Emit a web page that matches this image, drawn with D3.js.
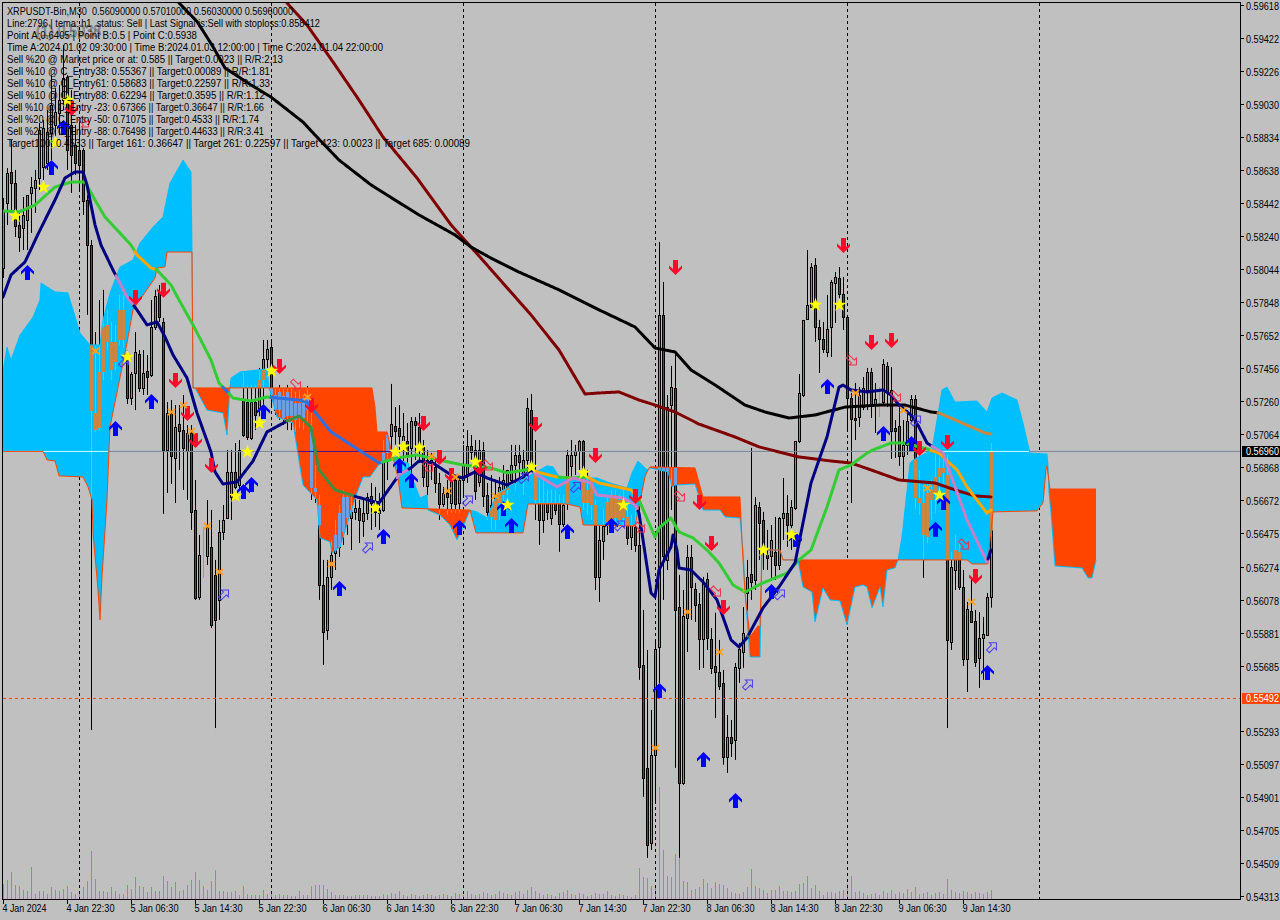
<!DOCTYPE html>
<html><head><meta charset="utf-8">
<script src="https://cdn.jsdelivr.net/npm/d3@7"></script>
<style>html,body{margin:0;padding:0;background:#C0C0C0}svg{display:block}text{font-family:"Liberation Sans",Arial,sans-serif}</style>
</head><body><svg id="c" width="1280" height="920"></svg>
<script>
// prices below are in units of 0.00001
const opens=[58052,58439,58624,58558,58308,58291,58338,58499,58528,58588,
58653,58677,58856,58903,58975,59052,59189,58903,58784,58754,
58754,58457,58189,57189,57099,57433,57612,57612,57492,57624,
57803,57534,57278,57427,57540,57338,57439,57415,57701,57910,
57731,56969,57189,56921,57123,57087,56963,57070,56612,56094,
56338,56338,56391,56225,56076,56481,56564,56689,56838,56760,
57266,57254,57040,57254,57218,57385,57510,57582,57206,57314,
57159,57314,57171,57248,57159,57159,57296,57105,56743,56641,
56165,55897,56213,56356,56391,56481,56564,56564,56600,56623,
56546,56594,56695,56659,56594,56612,56951,57052,57111,57099,
57028,57022,56981,57141,57105,56987,56755,56891,56868,56772,
56647,56713,56653,56790,56653,56790,56820,56993,56969,56778,
56969,56701,56570,56552,56653,56701,56731,56790,56879,56939,
56790,56909,57206,56850,56653,56552,56653,56564,56653,56653,
56528,56653,56874,56939,56963,57022,56653,56790,56641,56213,
56427,56540,56552,56701,56552,56683,56570,56451,56510,56403,
55689,55076,54629,55153,55796,57773,56314,57236,57338,56034,
54986,55969,56332,56141,56052,55843,56201,55843,55683,55647,
55582,55141,55260,55242,55671,55766,56117,56231,56195,56629,
56552,56344,56338,56362,56284,56564,56594,56522,56623,57022,
57296,57749,57820,58070,57701,57630,57552,57701,57963,57993,
57898,57761,57278,57159,57165,57224,57326,57433,57236,57254,
57254,57469,57326,57099,57111,56933,56999,57147,57272,56683,
56463,56451,56731,56713,56808,56832,56820,55826,56254,56362,
56153,55725,56010,55951,55731,55850,55868,56090];
const highs=[58469,58647,58814,58636,58380,58475,58487,58594,58636,58915,
58933,58992,59200,59123,59141,59379,59200,59112,58903,58933,
58766,58487,58219,57671,57862,57922,57803,57731,57713,57892,
57892,57564,57433,57671,57564,57564,57534,57862,57922,57951,
57755,57254,57266,57236,57236,57296,57117,57117,56790,56463,
56510,56671,56612,56314,56552,56641,56969,56969,57010,57028,
57439,57356,57356,57356,57457,57624,57624,57624,57338,57356,
57332,57356,57338,57314,57326,57296,57350,57254,56879,56701,
56314,56314,56433,56552,56641,56731,56701,56701,56701,56671,
56671,56713,56772,56749,56713,57028,57076,57362,57224,57236,
57189,57129,57165,57165,57189,57028,56969,56951,56909,56832,
56749,56790,56832,56808,56802,56999,57087,57058,57028,57028,
57016,56772,56820,56790,56808,56879,56850,56999,56999,56999,
56969,57278,57302,57028,56790,56790,56731,56731,56731,56701,
56701,56969,57028,56999,57028,57028,56850,56802,56671,56522,
56612,56701,56731,56731,56701,56731,56641,56582,56701,56671,
56016,55778,55421,55838,58207,57969,57296,57469,57552,56225,
56135,56403,56403,56177,56117,56213,56237,55909,56000,55838,
55659,55391,55361,55701,55820,56034,56314,56981,56689,56659,
56600,56493,56522,56570,56570,56802,56701,56671,57022,57421,
57743,58159,58082,58111,57743,57731,57892,57981,58028,58058,
57999,57773,57308,57368,57344,57403,57457,57457,57368,57344,
57510,57492,57463,57147,57224,57147,57206,57296,57296,56850,
56760,56772,56790,56939,56927,56921,56939,56362,56463,56433,
56254,56064,56207,56016,56004,55975,56117,57010];
const lows=[57993,58308,58380,58237,58147,58159,58159,58261,58380,58517,
58576,58636,58695,58814,58844,58992,58636,58499,58606,58505,
58368,57773,55301,57076,57087,57385,57564,57385,57445,57594,
57576,57242,57236,57206,57314,57296,57296,57403,57683,57731,
56588,56713,56766,56653,56850,56731,56671,56493,56076,56076,
56207,56284,55909,55313,55957,56433,56558,56552,56701,56731,
57046,57028,57028,57087,57147,57206,57457,57236,57177,57147,
57117,57087,57087,57076,57099,57087,57117,56671,56653,56076,
55689,55838,56135,56254,56332,56403,56463,56373,56552,56415,
56451,56552,56493,56510,56493,56600,56790,56957,56999,56951,
56850,56868,56820,56909,56891,56749,56689,56790,56713,56552,
56629,56582,56594,56594,56594,56701,56772,56909,56671,56749,
56629,56552,56493,56493,56552,56612,56701,56772,56731,56790,
56701,56790,56838,56552,56403,56475,56552,56522,56582,56362,
56510,56612,56790,56820,56850,56612,56582,56552,56135,56064,
56314,56463,56493,56522,56522,56510,56403,56373,56362,55600,
54903,54540,54587,54867,55582,56076,56254,56612,55076,54540,
54974,55766,55957,55945,55659,55671,55778,55635,55373,55540,
55094,55046,55141,55123,55582,55671,55975,56076,56135,56314,
56254,56254,56195,56195,56254,56433,56391,56373,56612,57010,
57284,57743,57814,57612,57427,57546,57522,57522,57725,57820,
57683,57087,56653,57028,57105,57206,57206,57159,57070,57165,
57242,57224,56915,56921,56874,56796,56939,57135,56612,56582,
56207,56415,56552,56594,56731,56760,55313,55778,56135,56135,
55683,55528,55939,55677,55552,55600,55868,56030];
const closes=[58398,58618,58558,58302,58237,58368,58487,58534,58576,58873,
58885,58861,59022,58980,59052,59183,58754,58725,58677,58665,
58451,58189,57201,57087,57433,57701,57713,57445,57612,57803,
57624,57278,57421,57552,57338,57427,57403,57701,57886,57761,
56969,57189,56933,57105,57081,56981,57070,56600,56088,56344,
56350,56510,55927,55957,56481,56552,56838,56838,56749,56969,
57058,57046,57254,57177,57385,57510,57570,57278,57296,57206,
57290,57171,57278,57147,57248,57278,57206,56743,56719,56165,
55886,56213,56344,56463,56594,56689,56689,56612,56623,56552,
56594,56689,56653,56600,56612,56951,57058,57123,57081,57052,
57052,56939,57141,57117,56987,56808,56909,56909,56772,56647,
56713,56689,56790,56647,56790,56879,56993,56957,56725,56969,
56695,56600,56641,56701,56749,56790,56850,56879,56939,56897,
56909,57218,56879,56671,56552,56653,56600,56653,56612,56528,
56641,56939,56939,56963,57022,56653,56731,56641,56213,56433,
56516,56659,56701,56564,56671,56564,56445,56522,56403,55677,
55016,54617,55153,55784,57773,56338,57224,57344,56016,54986,
55981,56332,56153,56046,55843,56183,55850,55671,55647,55564,
55141,55260,55224,55677,55784,55880,56213,56183,56641,56534,
56373,56326,56433,56284,56564,56594,56522,56629,57022,57308,
57743,57832,58058,57701,57630,57570,57689,57969,57999,57898,
57761,57278,57153,57147,57296,57338,57433,57236,57272,57266,
57480,57314,57081,57081,56933,56999,57141,57272,56683,56653,
56653,56713,56671,56808,56862,56862,55838,56272,56373,56153,
55725,56022,55945,55707,55850,55874,56094,56960];
const volumes=[15,19,27,14,13,9,8,32,5,8,8,5,12,9,8,10,13,7,5,8,
12,18,48,20,8,8,7,12,8,5,5,14,10,22,13,12,7,12,8,8,
23,18,12,17,8,9,14,19,27,19,13,9,18,29,8,8,7,7,8,4,
13,5,4,4,4,9,5,7,4,5,4,4,3,3,8,4,4,13,14,14,
14,10,7,4,4,4,3,3,4,4,4,4,3,3,3,5,4,6,5,8,
4,3,5,4,3,4,5,4,3,4,5,4,3,6,5,4,8,5,4,5,
7,6,4,5,8,6,5,4,7,8,5,9,12,8,6,4,5,4,3,6,
7,9,5,4,6,5,3,4,6,5,5,8,4,3,5,4,3,2,4,31,
22,21,13,14,112,49,23,22,45,41,18,17,9,10,12,20,16,11,17,15,
14,11,7,6,5,7,12,30,13,11,9,6,9,9,13,8,8,7,8,15,
16,23,11,14,8,4,7,7,6,8,9,15,23,7,8,6,4,5,6,4,
8,6,9,5,7,6,10,7,12,5,6,7,4,6,7,5,20,9,7,6,
8,7,5,7,6,5,7,9];
const limeWickBars=[50,219];

const emaGreenBars=[0,4,8,13,17,20.5,23,25.5,32,33.5,37,38.5,42,44,47.5,52,54,57.5,62,66,74,76,82,87,94,98.5,103.5,109,115,122,126,132,133.5,138.5,142,146,149,157,159,163,164,167,169,172.5,176,179,182.5,185.5,190,196,199,202,206,209,212,216,217.5,222,225.5,231,234,238.5,241,245,246,247];
const emaGreen=[58392,58386,58427,58534,58564,58564,58457,58356,58189,58130,58052,58040,57951,57862,57713,57505,57368,57278,57260,57284,57266,57254,57076,56999,56891,56921,56939,56909,56879,56862,56832,56856,56838,56808,56802,56808,56772,56731,56671,56451,56504,56564,56481,56445,56373,56296,56165,56123,56177,56236,56314,56373,56629,56850,56879,56950,56969,57010,57010,56975,56950,56850,56749,56623,56593,56611];
const temaNavyBars=[0,2,5.5,9,13,15.5,18,20,21,23,24.5,27.5,31,33.5,36,38.5,40.5,42.5,46,48.5,52,53,55,58.5,62.5,66,71,74,77,79,83,88.5,94,99,102,104,107.5,112,115,118,121,126,130,132,133.5,138.5,142.5,147,148.5,155,158,159,162,163,164,167,167.5,168.5,169,172,175,178.5,182,184,186,190,194,198,202,206,209,210,212,216,220,222,224,227.5,229,231,235,241,246,247];
const temaNavy=[57880,58011,58088,58266,58457,58588,58624,58624,58547,58309,58189,58040,57880,57803,57713,57731,57642,57535,57397,57189,56957,56838,56766,56778,56903,57076,57141,57171,57105,56850,56731,56689,56653,56820,56862,56903,56891,56820,56802,56838,56802,56760,56808,56850,56820,56749,56802,56772,56701,56683,56641,56593,56117,56094,56254,56391,56463,56373,56266,56254,56183,56076,55838,55796,55850,56028,56153,56296,56772,57046,57343,57355,57326,57314,57326,57296,57236,57165,57105,57010,56950,56552,56302,56373];
const maBlackBars=[44,48.5,52.5,55.5,62,67,75,78,84,92,98,104,113,117,122,129,139,149,158,163,168,172,178,185.5,190.5,196.5,203,210.5,219,225.5,232,234,245.5,247];
const maBlack=[59630,59520,59370,59243,59142,59070,58921,58844,58695,58547,58457,58368,58249,58177,58111,58028,57922,57803,57701,57576,57552,57445,57356,57236,57195,57159,57177,57224,57236,57236,57195,57189,57070,57064];
const maMaroonBars=[71,76,82.5,89,95,103.5,112,119,132,139,145.5,149,154,159,163,168,174,183,189,194,199,207,212,217,224,233,238,243,247];
const maMaroon=[59630,59499,59279,59052,58832,58588,58309,58124,57773,57564,57302,57308,57314,57266,57236,57195,57123,57046,56987,56957,56927,56903,56891,56850,56790,56772,56731,56695,56689];

const spanABars=[0,10,11,13,14,20,21.25,22.25,22.5,23.75,24.25,24.75,26,26.5,26.75,31,32.5,38,38.5,40.5,41,47.25,47.5,92.25,93,93.5,96,97.5,98.75,99.75,116.75,118.25,130,131.25,141,144.25,145,158,160.5,161.25,161.75,173,175,184.25,184.75,185.5,186.75,188.75,189.25,189.75,194.25,195,223.75,241,242.25,246.25,246.75,247.5,258.5,260,260.75,261,261.75,273.25];
const spanA=[56960,56960,56909,56903,56814,56808,56749,56671,56475,56135,55957,56213,56671,56969,57105,57605,57803,57993,58052,58058,58147,58147,57338,57338,57224,57076,57076,56921,56802,56623,56611,56475,56475,56647,56647,56629,56522,56516,56808,56850,56868,56862,56689,56689,56421,56117,55856,55921,55915,56373,56373,56314,56314,56314,56290,56290,56433,56600,56606,56653,56850,56874,56736,56736];
const spanBBars=[0,1,2,4.25,7.5,9.25,9.5,13,16.25,16.75,19.25,21.75,24.25,25,26.75,29.25,32.5,34.25,37.5,40,41.75,45,47,47.25,47.5,48,51,55,56,56.75,57,59.25,66,66.5,68.5,72.5,74.25,75,78.5,79.25,81.75,82.25,84.25,88.5,90,91.75,94.25,97.5,101.25,102.5,104.25,106,106.25,109.25,111.75,113.5,115,116.75,118.5,121,122.5,123.75,136,137.5,139.25,148.5,151.75,156,157.25,158.75,161,161.75,166.25,167.25,168,173,175,179.25,180.5,184.25,185,185.75,186.75,189.25,189.75,194.25,195,198.75,200,202.25,203,205,206.75,209.25,211,213,215,216,217.25,219.25,220,221,223,223.75,224.75,226.75,227.5,232.25,234.75,236,238,243.5,246,247.25,249.75,253.5,255,256.75,261,261.25,261.5,262,263,269.75,271.25,272.25,273.25];
const spanB=[57433,57581,57504,57653,57760,57862,57963,57910,57904,57862,57665,57594,57594,57743,57904,58058,58100,58201,58296,58356,58558,58695,58624,58147,57338,57338,57206,57189,57058,57338,57397,57433,57451,57338,57165,57129,56868,56760,56671,56445,56421,56356,56391,56713,56808,56808,56891,56921,56891,56790,56683,56701,56611,56581,56522,56433,56510,56611,56600,56564,56653,56713,56874,56868,56802,56802,56772,56743,56832,56903,56850,56862,56838,56749,56760,56766,56611,56611,56570,56564,56373,56046,55736,55736,56373,56373,56314,56314,56153,56123,55945,56147,56076,56070,55927,56153,56165,56153,56028,56153,56034,56254,56266,56314,56451,56891,56909,56969,57326,57343,57254,57260,57195,57278,57308,57266,57129,56950,56945,56874,56713,56594,56278,56266,56207,56207,56314];

const upBars=[6,12,15,28,37,60,62,65,84,95,99,102,114,125,127,141,152,164,175,183,192,198,206,220,227,233,235,246];
const upPrices=[58023,58647,58885,57093,57254,56719,56760,57195,56141,56451,56873,56784,56504,56617,56516,56480,56516,55534,55123,54879,56123,56433,57343,57064,57004,56493,56653,55641];
const downBars=[17,33,40,43,46,48,52,69,77,105,109,112,119,133,148,158,168,210,174,177,180,217,222,229,236,243];
const downPrices=[59004,57880,57922,57385,57189,57028,56879,57468,57236,57129,56927,56820,56867,57123,56939,56695,58058,58189,56659,56415,56034,57612,57624,56980,57016,56219];
const hollowUpBars=[30,55,91,116,130,143,154,186,194,228,247];
const hollowUpPrices=[57492,56106,56385,56665,56798,56745,56516,55569,56106,57141,55791];
const hollowDownBars=[20,73,106,121,159,169,212,178,223,240];
const hollowDownPrices=[58921,57361,56873,56879,56510,56695,57504,56129,57290,56409];
const starBars=[3,10,13,16,31,58,61,64,67,93,98,100,104,118,126,132,145,155,190,197,203,209,234];
const starPrices=[58362,58534,58798,59052,57522,56695,56957,57129,57439,56623,56957,56987,56981,56897,56641,56867,56832,56641,56373,56463,57832,57832,56701];
const crossBars=[23,42,45,47,51,54,76,82,107,111,113,123,163,171,179,213,225,231,242];
const crossPrices=[57558,57195,57236,57081,56516,56243,57284,56290,56933,56725,56808,56695,55195,56005,55766,57308,57206,56742,56064];

const separatorBars=[19,67,115,163,211,259];
const yTickLabels=["0.59618","0.59422","0.59226","0.59030","0.58834","0.58638","0.58442","0.58240","0.58044","0.57848","0.57652","0.57456","0.57260","0.57064","0.56868","0.56672","0.56475","0.56274","0.56078","0.55881","0.55685","0.55293","0.55097","0.54901","0.54705","0.54509","0.54313"];
const xTickLabels=["4 Jan 2024","4 Jan 22:30","5 Jan 06:30","5 Jan 14:30","5 Jan 22:30","6 Jan 06:30","6 Jan 14:30","6 Jan 22:30","7 Jan 06:30","7 Jan 14:30","7 Jan 22:30","8 Jan 06:30","8 Jan 14:30","8 Jan 22:30","9 Jan 06:30","9 Jan 14:30"];
const bidPrice=0.5696, askPrice=0.55492;
const infoLines=["XRPUSDT-Bin,M30  0.56090000 0.57010000 0.56030000 0.56960000",
"Line:2796 | tema: h1  status: Sell | Last Signal is:Sell with stoploss:0.858412",
"Point A:0.6405 | Point B:0.5 | Point C:0.5938",
"Time A:2024.01.02 09:30:00 | Time B:2024.01.03 12:00:00 | Time C:2024.01.04 22:00:00",
"Sell %20 @ Market price or at: 0.585 || Target:0.0023 || R/R:2.13",
"Sell %10 @ C_Entry38: 0.55367 || Target:0.00089 || R/R:1.81",
"Sell %10 @ C_Entry61: 0.58683 || Target:0.22597 || R/R:1.33",
"Sell %10 @ C_Entry88: 0.62294 || Target:0.3595 || R/R:1.12",
"Sell %10 @ C_Entry -23: 0.67366 || Target:0.36647 || R/R:1.66",
"Sell %20 @ C_Entry -50: 0.71075 || Target:0.4533 || R/R:1.74",
"Sell %20 @ C_Entry -88: 0.76498 || Target:0.44633 || R/R:3.41",
"Target100: 0.4533 || Target 161: 0.36647 || Target 261: 0.22597 || Target 423: 0.0023 || Target 685: 0.00089"];
const infoLineWidths=[286,313,190,376,276,263,263,258,257,252,257,463];

const BLUE="#00BFFF", ORANGE="#FF4500", BG="#C0C0C0";
const svg=d3.select("#c");
svg.append("rect").attr("width",1280).attr("height",920).attr("fill",BG);
const x=d3.scaleLinear().domain([0,1]).range([3,7]);
const y=d3.scaleLinear().domain([0.59618,0.54313]).range([5,896]);
const yP=v=>y(v/1e5);
const vol=d3.scaleLinear().domain([0,112]).range([899,787]);
const defs=svg.append("defs");
defs.append("clipPath").attr("id","plot").append("rect").attr("x",3).attr("y",3).attr("width",1237).attr("height",896);
const g=svg.append("g").attr("clip-path","url(#plot)");

// volumes
g.append("g").selectAll("rect").data(volumes).join("rect")
 .attr("x",(d,i)=>x(i)).attr("width",1).attr("y",d=>vol(d)).attr("height",d=>899-vol(d)).attr("fill","#4DBB4D");
// day separators
g.append("g").selectAll("line").data(separatorBars).join("line")
 .attr("x1",d=>x(d)+.5).attr("x2",d=>x(d)+.5).attr("y1",3).attr("y2",899)
 .attr("stroke","#000").attr("stroke-dasharray","3 3");
// candles
const cg=g.append("g");
opens.forEach((o,i)=>{
  const c=closes[i],top=Math.max(o,c),bot=Math.min(o,c),cx=x(i);
  const lime=limeWickBars.includes(i);
  cg.append("rect").attr("x",cx).attr("width",1).attr("y",yP(highs[i])).attr("height",Math.max(1,yP(lows[i])-yP(highs[i]))).attr("fill",lime?"#32E032":"#000");
  if(lime) return;
  const h=Math.max(2,Math.round(yP(bot)-yP(top)));
  cg.append("rect").attr("x",cx-1).attr("width",3).attr("y",Math.round(yP(top))).attr("height",h+1).attr("fill","#000");
  cg.append("rect").attr("x",cx).attr("width",1).attr("y",Math.round(yP(top))+1).attr("height",Math.max(1,h-1)).attr("fill",c>=o?"#3CB878":"#C8143C");
});
// cloud
const fA=d3.scaleLinear().domain(spanABars).range(spanA);
const fB=d3.scaleLinear().domain(spanBBars).range(spanB);
const lastT=d3.max(spanABars);
const samples=d3.range(0,lastT+.001,.25);
const kindAt=t=>fB(t)>fA(t)?"blue":"orange";
const area=d3.area().x(t=>x(t)).y0(t=>yP(fA(t))).y1(t=>yP(fB(t)));
let runs=[],cur=null;
samples.forEach(t=>{const k=kindAt(t);
  if(!cur||cur.k!==k){if(cur)cur.ts.push(t);cur={k,ts:cur?[cur.ts[cur.ts.length-1]]:[]};runs.push(cur);}
  cur.ts.push(t);});
const cloudG=g.append("g");
runs.forEach(r=>cloudG.append("path").attr("d",area(r.ts)).attr("fill",r.k==="blue"?BLUE:ORANGE).attr("shape-rendering","crispEdges"));
// candles seen through the cloud
const ov=g.append("g");
opens.forEach((o,i)=>{
  if(limeWickBars.includes(i))return;
  const a=fA(i),b=fB(i),hi=Math.max(a,b),lo=Math.min(a,b);
  if(hi-lo<1)return;
  const blue=b>a,c=closes[i],top=Math.min(Math.max(o,c),hi),bot=Math.max(Math.min(o,c),lo);
  const wt=Math.min(highs[i],hi),wb=Math.max(lows[i],lo);
  if(wt>wb) ov.append("rect").attr("x",x(i)).attr("width",1).attr("y",yP(wt)).attr("height",yP(wb)-yP(wt)).attr("fill",blue?"#C8A468":"#7FA0D0");
  if(top>bot) ov.append("rect").attr("x",x(i)-1).attr("width",3).attr("y",yP(top)).attr("height",yP(bot)-yP(top)).attr("fill",blue?"#CD853F":"#6F9FE0");
});
// bid / ask lines
function zoneAt(t,p){ if(t>lastT||t<0)return null; const a=fA(t),b=fB(t); if(p<Math.min(a,b)||p>Math.max(a,b))return null; return b>a?"blue":"orange"; }
function drawZoned(parent,ts,fn,base,onBlue,onOrange,w){
  const line=d3.line().x(t=>x(t)).y(t=>yP(fn(t)));
  let rr=[],c=null;
  ts.forEach(t=>{const z=zoneAt(t,fn(t)),col=z==="blue"?onBlue:z==="orange"?onOrange:base;
    if(!c||c.col!==col){const st=c?[c.ts[c.ts.length-1]]:[];c={col,ts:st};rr.push(c);}
    c.ts.push(t);});
  rr.forEach(r=>parent.append("path").attr("d",line(r.ts)).attr("fill","none").attr("stroke",r.col).attr("stroke-width",w).attr("stroke-linejoin","round").attr("stroke-linecap",w>1?"round":"butt"));
}
const lg=g.append("g");
drawZoned(lg,d3.range(-1,310,.25),()=>bidPrice*1e5,"#778899","#C8FFFF","#40108F",1);
const spanLine=(f,col)=>g.append("path").attr("d",d3.line().x(t=>x(t)).y(t=>yP(f(t)))(samples)).attr("fill","none").attr("stroke",col).attr("stroke-width",1);
spanLine(fB,BLUE); spanLine(fA,ORANGE);
g.append("line").attr("x1",3).attr("x2",1240).attr("y1",y(askPrice)+.5).attr("y2",y(askPrice)+.5).attr("stroke",ORANGE).attr("stroke-dasharray","3 3");
// moving averages
const series=[[maMaroonBars,maMaroon,"#800000","#800000","#800000"],[maBlackBars,maBlack,"#000","#CD853F","#6F9FE0"],[emaGreenBars,emaGreen,"#32CD32","#FFA500","#2F6FE0"],[temaNavyBars,temaNavy,"#000080","#C77FC7","#3E8E3E"]];
series.forEach(([bars,vals,c0,c1,c2])=>{
  const f=d3.scaleLinear().domain(bars).range(vals);
  drawZoned(g.append("g"),d3.range(bars[0],bars[bars.length-1]+.01,.25),f,c0,c1,c2,3);
});
// markers
const mk=(bars,prices,fn)=>{const m=g.append("g");bars.forEach((b,i)=>fn(m,x(b)+.5,yP(prices[i])));};
const upPath="M0,-8L6.5,-1.5L6.5,1.5L2.5,-2L2.5,7L-2.5,7L-2.5,-2L-6.5,1.5L-6.5,-1.5Z";
mk(upBars,upPrices,(m,a,b)=>m.append("path").attr("d",upPath).attr("transform",`translate(${a},${b})`).attr("fill","#0000FF"));
mk(downBars,downPrices,(m,a,b)=>m.append("path").attr("d",upPath).attr("transform",`translate(${a},${b}) rotate(180)`).attr("fill","#FF0A2A"));
const hollow="M0,-7L5,-2L2,-2L2,5L-2,5L-2,-2L-5,-2Z";
mk(hollowUpBars,hollowUpPrices,(m,a,b)=>m.append("path").attr("d",hollow).attr("transform",`translate(${a},${b}) rotate(45)`).attr("fill","none").attr("stroke","#4A3CF0"));
mk(hollowDownBars,hollowDownPrices,(m,a,b)=>m.append("path").attr("d",hollow).attr("transform",`translate(${a},${b}) rotate(135)`).attr("fill","none").attr("stroke","#F03048"));
const star=d3.symbol(d3.symbolStar,62)();
mk(starBars,starPrices,(m,a,b)=>m.append("path").attr("d",star).attr("transform",`translate(${a},${b})`).attr("fill","#FFFF00"));
mk(crossBars,crossPrices,(m,a,b)=>m.append("path").attr("d","M-3.5,-3L3.5,3M-3.5,3L3.5,-3").attr("transform",`translate(${a},${b})`).attr("fill","none").attr("stroke","#FF9F1A").attr("stroke-width",1.8));

// frame and axes
const ax=svg.append("g").attr("shape-rendering","crispEdges");
ax.append("rect").attr("x",2.5).attr("y",2.5).attr("width",1238).attr("height",897).attr("fill","none").attr("stroke","#000");
const lab=svg.append("g").attr("font-size",11).attr("fill","#000");
const squeeze=(sel,w)=>sel.attr("textLength",w).attr("lengthAdjust","spacingAndGlyphs");
yTickLabels.forEach(s=>{const py=Math.round(y(+s))+.5;
  ax.append("line").attr("x1",1241).attr("x2",1244).attr("y1",py).attr("y2",py).attr("stroke","#000");
  squeeze(lab.append("text").attr("x",1246).attr("y",py+4).text(s),33);});
xTickLabels.forEach((s,i)=>{const px=x(i*16)+.5;
  ax.append("line").attr("x1",px).attr("x2",px).attr("y1",900).attr("y2",904).attr("stroke","#000");
  squeeze(lab.append("text").attr("x",px-1).attr("y",912).text(s),i===0?44:48);});
[[bidPrice,"#000","0.56960"],[askPrice,ORANGE,"0.55492"]].forEach(([p,col,s])=>{
  const py=Math.round(y(p));
  svg.append("rect").attr("x",1242).attr("y",py-5).attr("width",38).attr("height",11).attr("fill",col);
  squeeze(svg.append("text").attr("x",1246).attr("y",py+4).attr("font-size",11).attr("fill","#fff").text(s),33);});
// info text
const tg=svg.append("g").attr("font-size",11).attr("fill","#000");
squeeze(svg.append("text").attr("x",36).attr("y",37).attr("font-size",17).attr("font-weight",300).attr("fill","none").attr("stroke","#222").attr("stroke-width",.45).text("(1) 0.5938"),65);
infoLines.forEach((s,i)=>{squeeze(tg.append("text").attr("x",7).attr("y",14.5+12*i).style("white-space","pre").text(s),infoLineWidths[i]);});
</script></body></html>
